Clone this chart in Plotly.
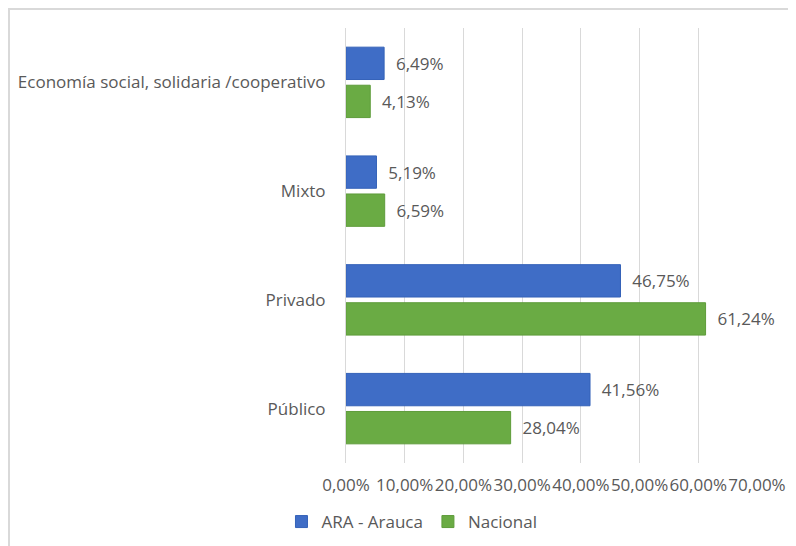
import plotly.graph_objects as go

# Categories (bottom to top, as plotly draws them)
categorias = ["Público", "Privado", "Mixto", "Economía social, solidaria /cooperativo"]
arauca = [0.4156, 0.4675, 0.0519, 0.0649]
nacional = [0.2804, 0.6124, 0.0659, 0.0413]

gris = "#595959"
fuente = dict(family="Open Sans, Noto Sans, sans-serif", size=17, color=gris)

fig = go.Figure()
# Nacional first so it sits below ARA inside each group
fig.add_trace(go.Bar(
    y=categorias, x=nacional, name="Nacional", orientation="h",
    marker=dict(color="#6AAB44", line=dict(color="#5E9C3A", width=1)),
    texttemplate="\u00a0\u00a0%{x:.2%}", textposition="outside",
    textfont=fuente, cliponaxis=False,
))
fig.add_trace(go.Bar(
    y=categorias, x=arauca, name="ARA - Arauca", orientation="h",
    marker=dict(color="#3F6DC6", line=dict(color="#3462B8", width=1)),
    texttemplate="\u00a0\u00a0%{x:.2%}", textposition="outside",
    textfont=fuente, cliponaxis=False,
))

# light border of the chart frame (top and left)
fig.add_shape(type="path", xref="paper", yref="paper",
              path="M -0.820,-1 L -0.820,1.0437 L 2,1.0437",
              line=dict(color="#D9D9D9", width=2))

fig.update_layout(
    width=796, height=546,
    margin=dict(l=338, r=47, t=20, b=91),
    paper_bgcolor="white", plot_bgcolor="white",
    separators=",.",
    barmode="group", bargap=0.3, bargroupgap=0.15,
    font=fuente,
    legend=dict(orientation="h", traceorder="reversed",
                xref="container", yref="container",
                x=0.5075, y=0.0586, xanchor="center", yanchor="middle",
                font=fuente),
    xaxis=dict(range=[0, 0.70], dtick=0.1, tickformat=".2%", tickangle=0,
               showgrid=True, gridcolor="#D9D9D9", gridwidth=1,
               zeroline=False, showline=False, ticklabelstandoff=10,
               tickfont=fuente, automargin=False),
    yaxis=dict(showline=True, linecolor="#D9D9D9", linewidth=1,
               showgrid=False, ticklabelstandoff=16, tickfont=fuente,
               automargin=False),
)

fig.write_html("out.html")
